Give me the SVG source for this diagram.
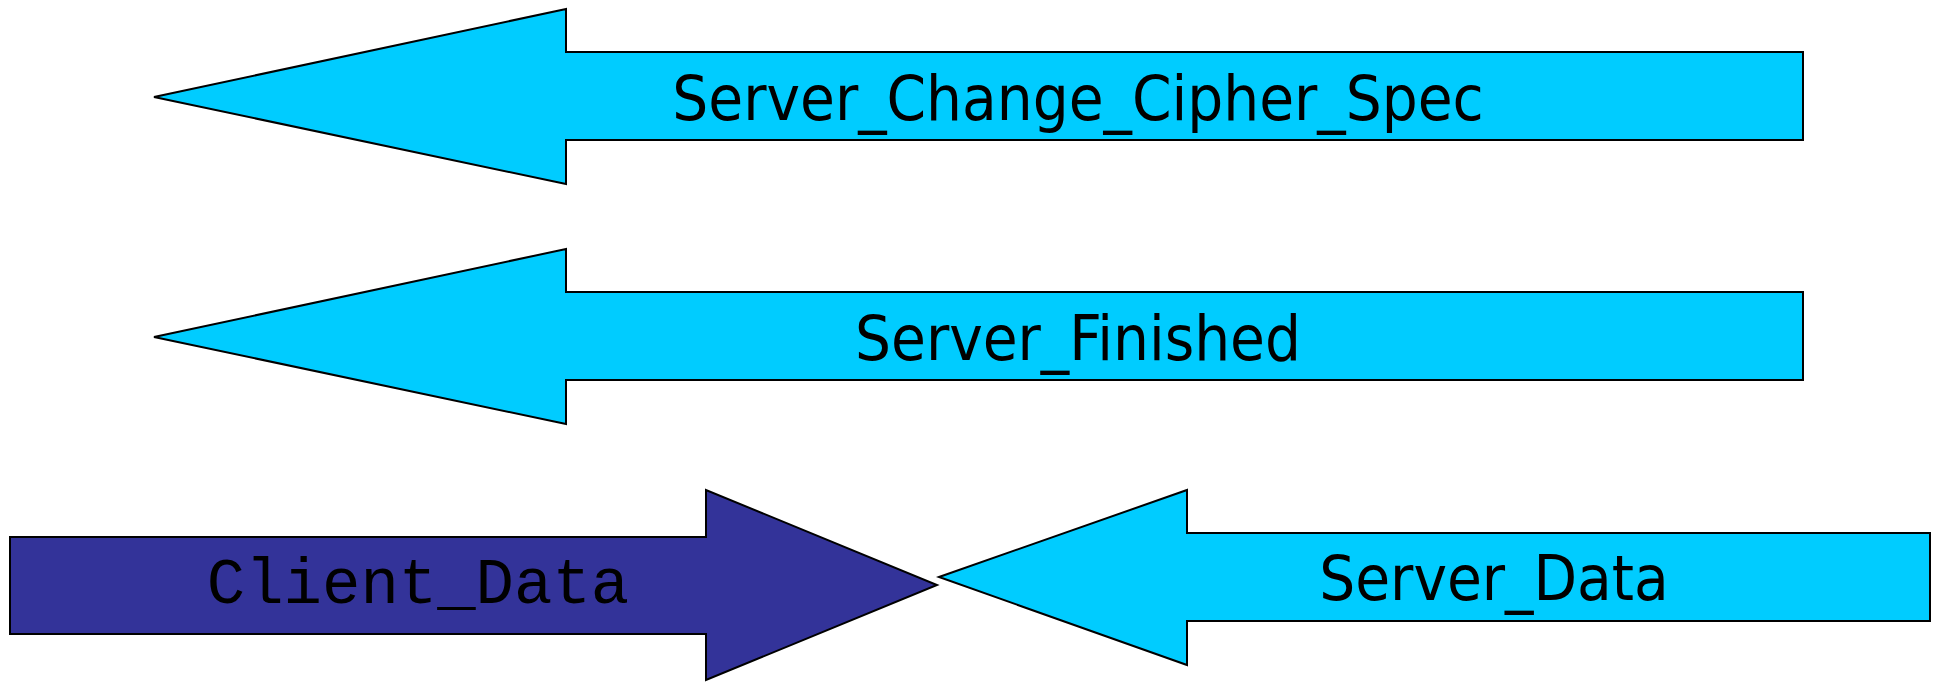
<svg xmlns="http://www.w3.org/2000/svg" width="1939" height="682" viewBox="0 0 1939 682">
<style>
.cy{fill:#00ccff;stroke:#000;stroke-width:2;stroke-linejoin:miter}
.dk{fill:#333399;stroke:#000;stroke-width:2;stroke-linejoin:miter}
.lb{font-family:"DejaVu Sans","Liberation Sans",sans-serif;font-stretch:condensed;font-size:63px;fill:#000;text-anchor:middle}
.mono{font-family:"Courier New","Nimbus Mono PS","FreeMono","Liberation Mono","DejaVu Sans Mono",monospace;font-size:64px;fill:#000;text-anchor:middle}
</style>
<rect width="1939" height="682" fill="#fff"/>
<g id="connectors">
<g id="server-change-cipher-spec">
<polygon class="cy" points="154,97 566,9 566,52 1803,52 1803,140 566,140 566,184"/>
<text class="lb" x="1078" y="120">Server_Change_Cipher_Spec</text>
</g>
<g id="server-finished">
<polygon class="cy" points="154,337 566,249 566,292 1803,292 1803,380 566,380 566,424"/>
<text class="lb" x="1078" y="360">Server_Finished</text>
</g>
<g id="client-data">
<polygon class="dk" points="10,537 706,537 706,490 937,585 706,680 706,634 10,634"/>
<text class="mono" x="418" y="603">Client_Data</text>
</g>
<g id="server-data">
<polygon class="cy" points="939,577 1187,490 1187,533 1930,533 1930,621 1187,621 1187,665"/>
<text class="lb" x="1494" y="600">Server_Data</text>
</g>
</g>
</svg>
